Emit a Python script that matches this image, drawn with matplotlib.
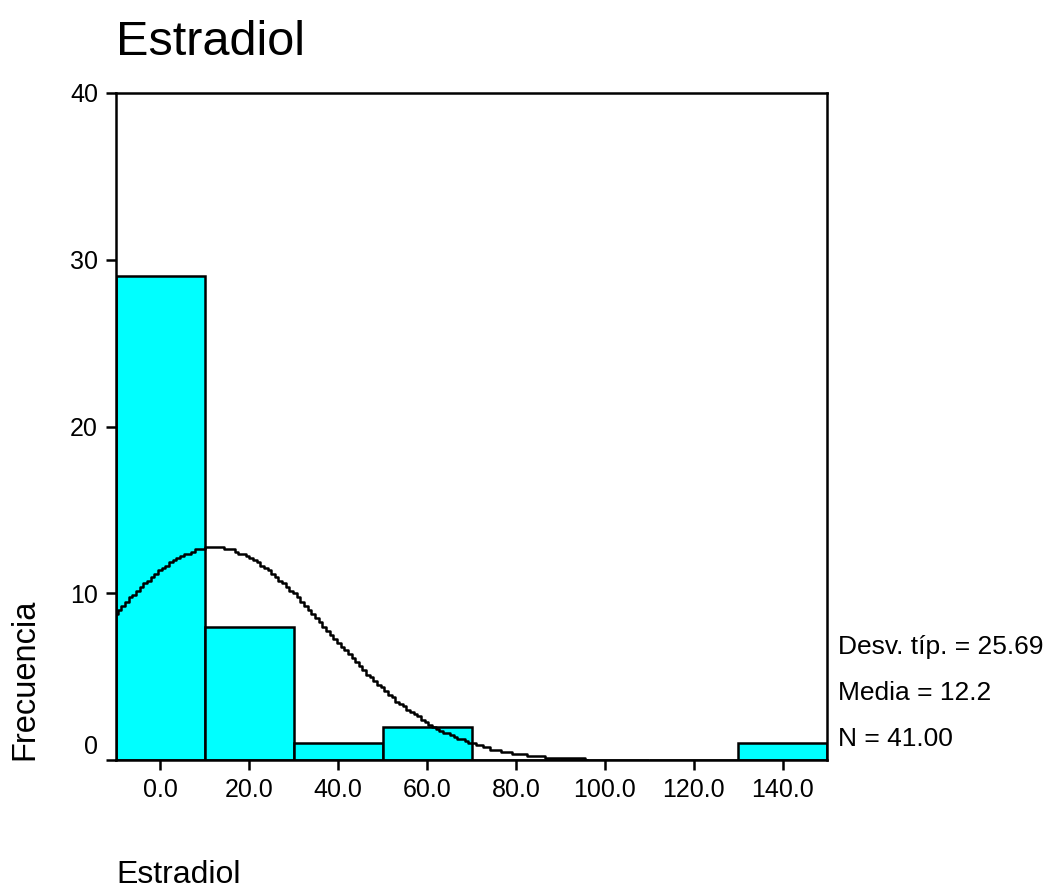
import numpy as np
import matplotlib
matplotlib.use('Agg')
import matplotlib.pyplot as plt
import matplotlib.transforms as mtransforms

plt.rcParams['font.family'] = ['Liberation Sans', 'DejaVu Sans']

# histogram data (bin centres, counts)
centers = [0, 20, 40, 60, 80, 100, 120, 140]
counts = [29, 8, 1, 2, 0, 0, 0, 1]
bin_width = 20

# summary stats shown on the chart
mean = 12.2
sd = 25.69
n = 41

xticks = [0, 20, 40, 60, 80, 100, 120, 140]
xticklabels = ['0.0', '20.0', '40.0', '60.0', '80.0', '100.0', '120.0', '140.0']
yticks = [0, 10, 20, 30, 40]

W, H = 1055, 889
fig = plt.figure(figsize=(W / 100, H / 100), dpi=100)
ax = fig.add_axes([116 / W, 1 - 760 / H, (827 - 116) / W, (760 - 93) / H])

ax.bar(centers, counts, width=bin_width, color='#00FFFF', edgecolor='black',
       linewidth=1.8, zorder=2)

# fitted normal curve (stepped look like the SPSS output)
xs = np.linspace(-10, 96, 130)
ys = n * bin_width / (sd * np.sqrt(2 * np.pi)) * np.exp(-0.5 * ((xs - mean) / sd) ** 2)
ys = np.round(ys * 8) / 8
ax.plot(xs, ys, color='black', linewidth=1.8, drawstyle='steps-mid', zorder=3)

ax.set_xlim(-10, 150)
ax.set_ylim(0, 40)
ax.set_xticks(xticks)
ax.set_xticklabels(xticklabels)
ax.set_yticks(yticks)
ax.set_yticklabels([str(v) for v in yticks])

for s in ax.spines.values():
    s.set_linewidth(1.8)
ax.tick_params(axis='both', direction='out', length=7, width=1.8)
ax.tick_params(axis='x', pad=6, labelsize=18)
ax.tick_params(axis='y', pad=6, labelsize=18)

# SPSS lifts the "0" label above the axis line
lab0 = ax.get_yticklabels()[0]
lab0.set_transform(lab0.get_transform() +
                   mtransforms.ScaledTranslation(0, 15 / 100, fig.dpi_scale_trans))

fig.text(116 / W, 1 - 55 / H, 'Estradiol', fontsize=35, ha='left', va='baseline')
fig.text(116 / W, 1 - 883 / H, 'Estradiol', fontsize=23, ha='left', va='baseline')
fig.text(25 / W, 1 - 760 / H, 'Frecuencia', fontsize=23.5, rotation=90,
         ha='center', va='bottom')

stats = ['Desv. típ. = %.2f' % sd, 'Media = %.1f' % mean, 'N = %.2f' % n]
for i, t in enumerate(stats):
    fig.text(838 / W, 1 - (647 + 46 * i) / H, t, fontsize=19, ha='left', va='center')

fig.savefig('out.png', dpi=100)
